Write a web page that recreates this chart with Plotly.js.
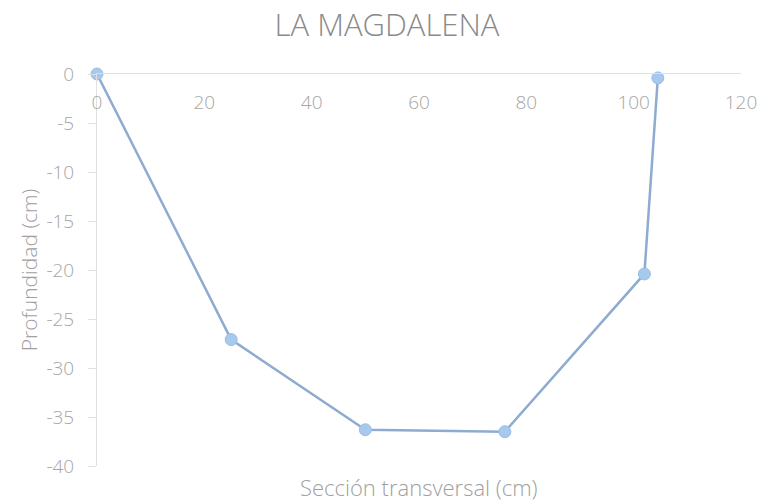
<!DOCTYPE html>
<html>
<head>
<meta charset="utf-8">
<script src="https://cdn.plot.ly/plotly-3.0.1.min.js"></script>
<style>html,body{margin:0;padding:0;background:#fff;}#chart{width:774px;height:503px;}</style>
</head>
<body>
<div id="chart"></div>
<script>
var seccion = [0, 25, 50, 76, 102, 104.5];
var profundidad = [0, -27.1, -36.3, -36.5, -20.4, -0.4];
var xTicks = [0, 20, 40, 60, 80, 100, 120];
var yTicks = [0, -5, -10, -15, -20, -25, -30, -35, -40];
var chartTitle = 'LA MAGDALENA';
var xTitle = 'Sección transversal (cm)';
var yTitle = 'Profundidad (cm)';

var fontFam = '"Open Sans", "DejaVu Sans", sans-serif';

var trace = {
  x: seccion,
  y: profundidad,
  type: 'scatter',
  mode: 'lines+markers',
  line: {color: '#8eabd0', width: 2.5},
  marker: {size: 12, color: '#a8c9ee', line: {color: '#9dbde3', width: 1}},
  cliponaxis: false,
  showlegend: false,
  hoverinfo: 'x+y'
};

var layout = {
  width: 774,
  height: 503,
  paper_bgcolor: '#ffffff',
  plot_bgcolor: '#ffffff',
  margin: {l: 97, r: 33, t: 74, b: 37},
  font: {family: fontFam, color: '#a0a0a0', weight: 300},
  title: {
    text: chartTitle,
    font: {family: fontFam, size: 31, color: '#8a8a8a', weight: 300},
    x: 0.5, xanchor: 'center',
    y: 1 - 25/503, yref: 'container', yanchor: 'middle'
  },
  xaxis: {
    range: [0, 120],
    tickvals: xTicks,
    ticktext: xTicks.map(String),
    side: 'top',
    ticklabelposition: 'inside',
    ticklabeloverflow: 'allow',
    ticklabelstandoff: 23,
    ticks: '',
    showline: true,
    linecolor: '#e0e0e0',
    linewidth: 1,
    showgrid: false,
    zeroline: false,
    tickfont: {family: fontFam, size: 19, color: '#a6a6a6', weight: 300}
  },
  yaxis: {
    range: [-40, 0],
    tickvals: yTicks,
    ticktext: yTicks.map(String),
    ticks: 'outside',
    ticklen: 8,
    tickcolor: '#e0e0e0',
    ticklabelstandoff: 10,
    showline: true,
    linecolor: '#e0e0e0',
    linewidth: 1,
    showgrid: false,
    zeroline: false,
    tickfont: {family: fontFam, size: 19, color: '#a6a6a6', weight: 300},
    title: {text: yTitle, font: {family: fontFam, size: 21, color: '#a0a0a0', weight: 300}, standoff: 3}
  },
  annotations: [{
    text: xTitle,
    xref: 'paper', yref: 'paper',
    x: 0.5, y: 0, xanchor: 'center', yanchor: 'middle',
    yshift: -21,
    showarrow: false,
    font: {family: fontFam, size: 22, color: '#a0a0a0', weight: 300}
  }]
};

Plotly.newPlot('chart', [trace], layout, {displayModeBar: false, staticPlot: true});
</script>
</body>
</html>
